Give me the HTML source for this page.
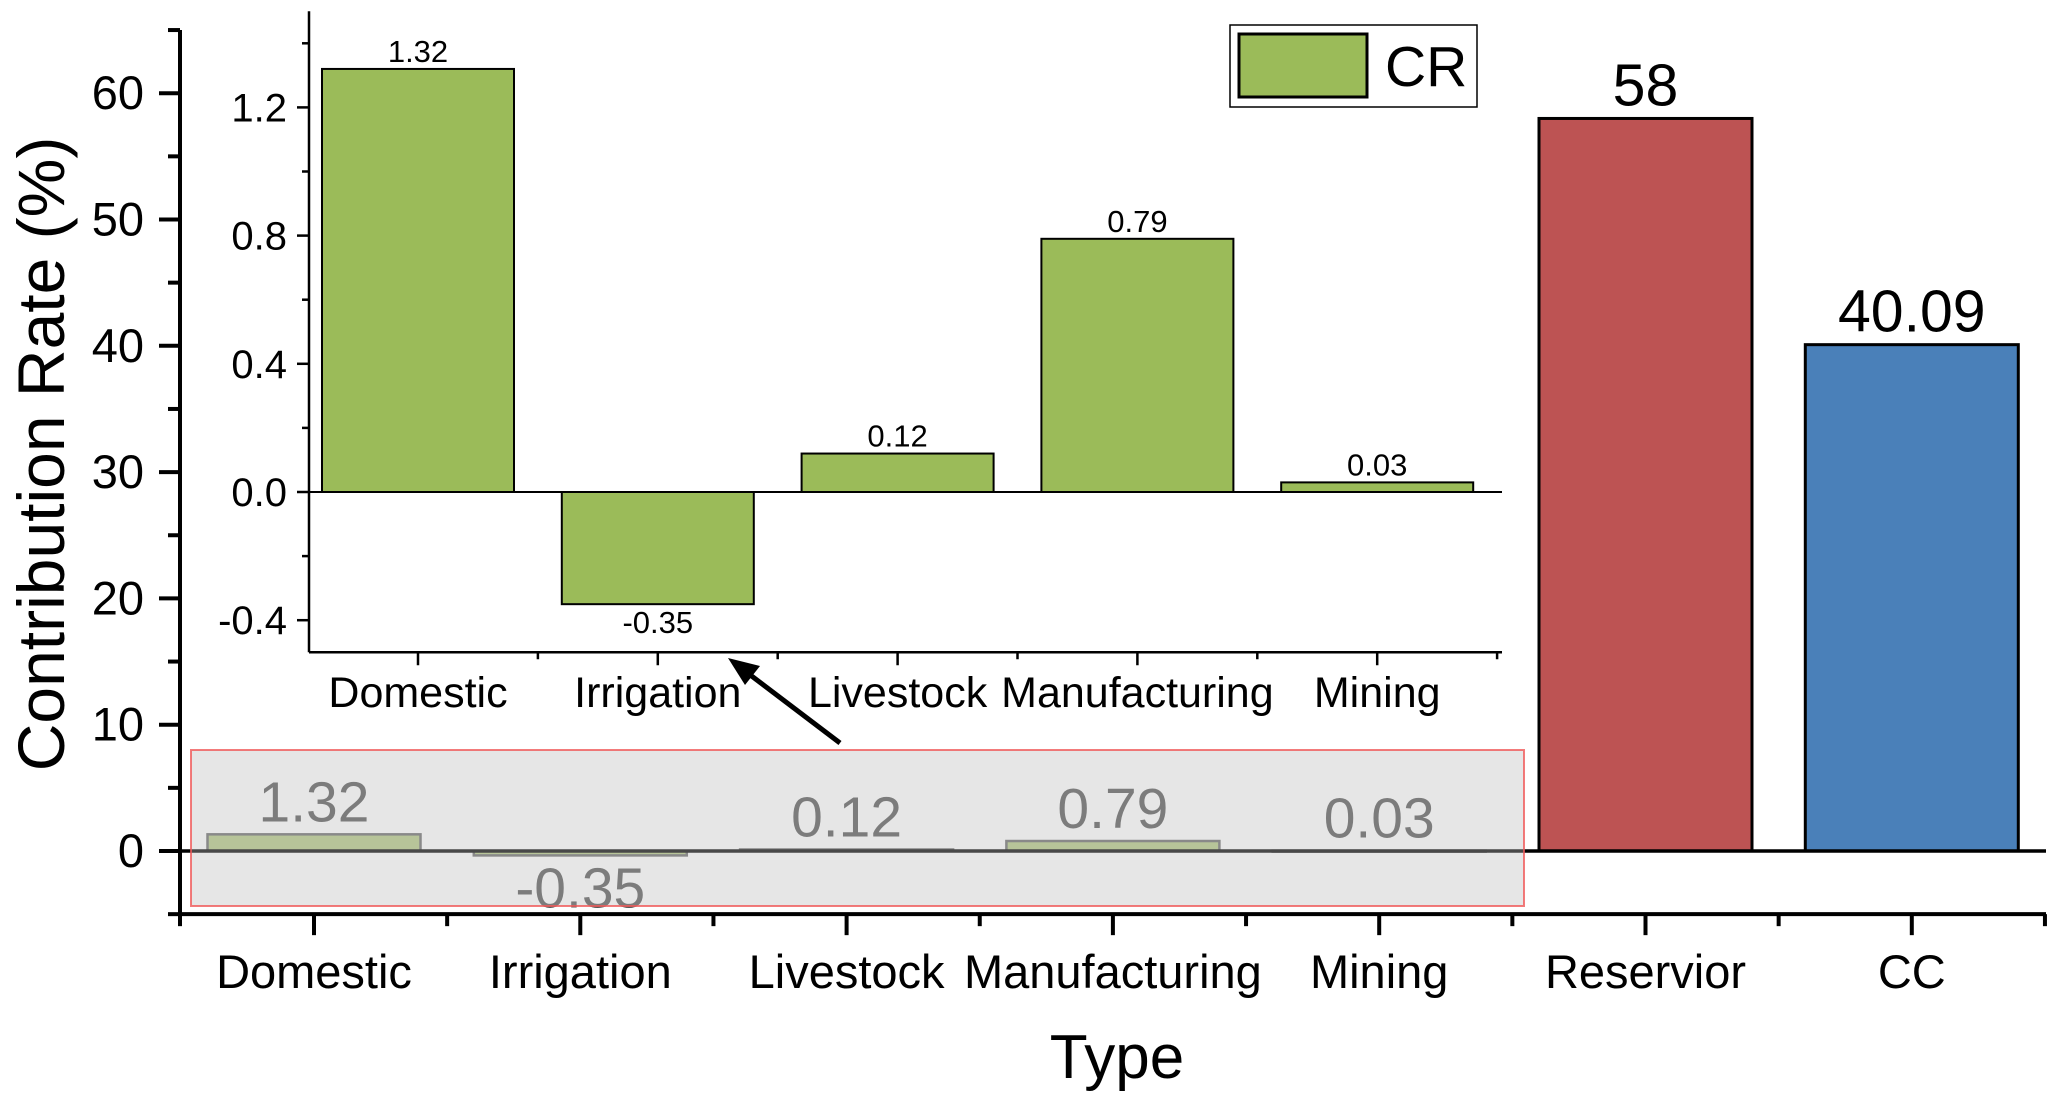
<!DOCTYPE html>
<html><head><meta charset="utf-8"><style>
html,body{margin:0;padding:0;background:#fff}
svg{display:block;font-family:"Liberation Sans",Arial,sans-serif}
</style></head><body>
<svg id="chart" width="2067" height="1104" viewBox="0 0 2067 1104">
<g id="main"></g>
<g id="inset"></g>
<g id="overlay"></g>
</svg>
<script>
const categories = ["Domestic","Irrigation","Livestock","Manufacturing","Mining","Reservior","CC"];
const values = [1.32,-0.35,0.12,0.79,0.03,58,40.09];
const valueLabels = ["1.32","-0.35","0.12","0.79","0.03","58","40.09"];
const yTicks = [0,10,20,30,40,50,60];
const insetCategories = ["Domestic","Irrigation","Livestock","Manufacturing","Mining"];
const insetValues = [1.32,-0.35,0.12,0.79,0.03];
const insetLabels = ["1.32","-0.35","0.12","0.79","0.03"];
const insetTicks = [-0.4,0.0,0.4,0.8,1.2];
const insetTickLabels = ["-0.4","0.0","0.4","0.8","1.2"];

const NS="http://www.w3.org/2000/svg";
function mk(parent,tag,attrs,text){const e=document.createElementNS(NS,tag);for(const k in attrs)e.setAttribute(k,attrs[k]);if(text!==undefined)e.textContent=text;parent.appendChild(e);return e;}

// main axes
const SP=266.3;
const mX0=180, mX1=2046, mYmin=-5, mYmax=65;
const mx = i => 314 + i*SP;
const my = v => 851 - v*12.63;
const main=document.getElementById('main');
const colors=["#9bbb59","#9bbb59","#9bbb59","#9bbb59","#9bbb59","#bd5353","#4a80b9"];
const bw=213;
categories.forEach((c,i)=>{
  const v=values[i], y0=my(0), y1=my(v);
  const small = i<5;
  const r=mk(main,'rect',{x:mx(i)-bw/2,y:Math.min(y0,y1),width:bw,height:Math.max(Math.abs(y1-y0),1),fill:small?"#b3c884":colors[i],stroke:small?"#6a6a6a":"#000","stroke-width":small?2.5:3});
  
  
  let ty, fs=small?57:59, fill=small?"#555":"#000";
  if(small){ ty = v>=0 ? y1-13 : y1+52; } else { ty = y1-13; }
  const t=mk(main,'text',{x:mx(i),y:ty,"font-size":fs,fill:fill,"text-anchor":"middle"},valueLabels[i]);
  
  
  const cl=mk(main,'text',{x:mx(i),y:988,"font-size":47,"text-anchor":"middle"},c);
  
  
  mk(main,'line',{x1:mx(i),x2:mx(i),y1:my(mYmin),y2:my(mYmin)+21,stroke:"#000","stroke-width":4});
  mk(main,'line',{x1:mx(i)+SP/2,x2:mx(i)+SP/2,y1:my(mYmin),y2:my(mYmin)+12,stroke:"#000","stroke-width":4});
});
mk(main,'line',{x1:mX0,x2:mX0,y1:my(mYmin),y2:my(mYmin)+12,stroke:"#000","stroke-width":4});
mk(main,'line',{x1:mX0,x2:mX1,y1:my(0),y2:my(0),stroke:"#000","stroke-width":3.5});
mk(main,'line',{x1:mX0,x2:mX0,y1:my(mYmax),y2:my(mYmin)+2,stroke:"#000","stroke-width":4});
mk(main,'line',{x1:mX0-2,x2:mX1,y1:my(mYmin),y2:my(mYmin),stroke:"#000","stroke-width":4});
for(let v=-5;v<=65;v+=5){
  const major = v%10===0;
  mk(main,'line',{x1:mX0-(major?21:12),x2:mX0,y1:my(v),y2:my(v),stroke:"#000","stroke-width":4});
}
yTicks.forEach(v=>{
  const t=mk(main,'text',{x:144,y:my(v)+16,"font-size":47,"text-anchor":"end"},String(v));
  
  
});
const yt=mk(main,'text',{x:0,y:0,"font-size":66,"text-anchor":"middle",transform:"translate(64,454) rotate(-90)"},"Contribution Rate (%)");

const xt=mk(main,'text',{x:1117,y:1078,"font-size":62,"text-anchor":"middle"},"Type");


// inset
const inset=document.getElementById('inset');
const iSP=239.8;
const iX0=309, iX1=1502;
const ix = i => 418 + i*iSP;
const iy = v => 492 - v*320.5;
mk(inset,'rect',{x:iX0,y:iy(1.5),width:iX1-iX0,height:iy(-0.5)-iy(1.5),fill:"#fff"});
const ibw=192;
insetCategories.forEach((c,i)=>{
  const v=insetValues[i], y0=iy(0), y1=iy(v);
  const r=mk(inset,'rect',{x:ix(i)-ibw/2,y:Math.min(y0,y1),width:ibw,height:Math.abs(y1-y0),fill:"#9bbb59",stroke:"#000","stroke-width":2});
  
  
  const ty = v>=0 ? y1-7 : y1+29;
  const t=mk(inset,'text',{x:ix(i),y:ty,"font-size":31,"text-anchor":"middle"},insetLabels[i]);
  
  const cl=mk(inset,'text',{x:ix(i),y:707,"font-size":43,"text-anchor":"middle"},c);
  
  mk(inset,'line',{x1:ix(i),x2:ix(i),y1:iy(-0.5),y2:iy(-0.5)+13,stroke:"#000","stroke-width":2.5});
  mk(inset,'line',{x1:ix(i)+iSP/2,x2:ix(i)+iSP/2,y1:iy(-0.5),y2:iy(-0.5)+7,stroke:"#000","stroke-width":2.5});
});
mk(inset,'line',{x1:iX0,x2:iX1,y1:iy(0),y2:iy(0),stroke:"#000","stroke-width":2});
mk(inset,'line',{x1:iX0,x2:iX0,y1:iy(1.5),y2:iy(-0.5),stroke:"#000","stroke-width":2.5});
mk(inset,'line',{x1:iX0,x2:iX1,y1:iy(-0.5),y2:iy(-0.5),stroke:"#000","stroke-width":2.5});
for(let k=-2;k<=7;k++){const v=k*0.2;const major=(k%2===0);
  mk(inset,'line',{x1:iX0-(major?12:7),x2:iX0,y1:iy(v),y2:iy(v),stroke:"#000","stroke-width":2.5});}
insetTicks.forEach((v,i)=>{
  const t=mk(inset,'text',{x:287,y:iy(v)+14,"font-size":40,"text-anchor":"end"},insetTickLabels[i]);
  
});
// legend
const lg=mk(inset,'g',{});

mk(lg,'rect',{x:1230,y:25,width:247,height:82,fill:"#fff",stroke:"#000","stroke-width":1.5});
const sw=mk(lg,'rect',{x:1239,y:34,width:128,height:63,fill:"#9bbb59",stroke:"#000","stroke-width":3});

const lt=mk(lg,'text',{x:1385,y:86,"font-size":57},"CR");


// overlay box + arrow
const ov=document.getElementById('overlay');
const hb=mk(ov,'rect',{x:191,y:750,width:1333,height:156,fill:"rgba(190,190,190,0.38)",stroke:"rgba(240,90,90,0.8)","stroke-width":2});

const ar=mk(ov,'g',{});

mk(ar,'line',{x1:840,y1:743,x2:745,y2:671,stroke:"#000","stroke-width":5});
mk(ar,'polygon',{points:"728,658 760,666 745,685",fill:"#000"});
</script>
</body></html>
